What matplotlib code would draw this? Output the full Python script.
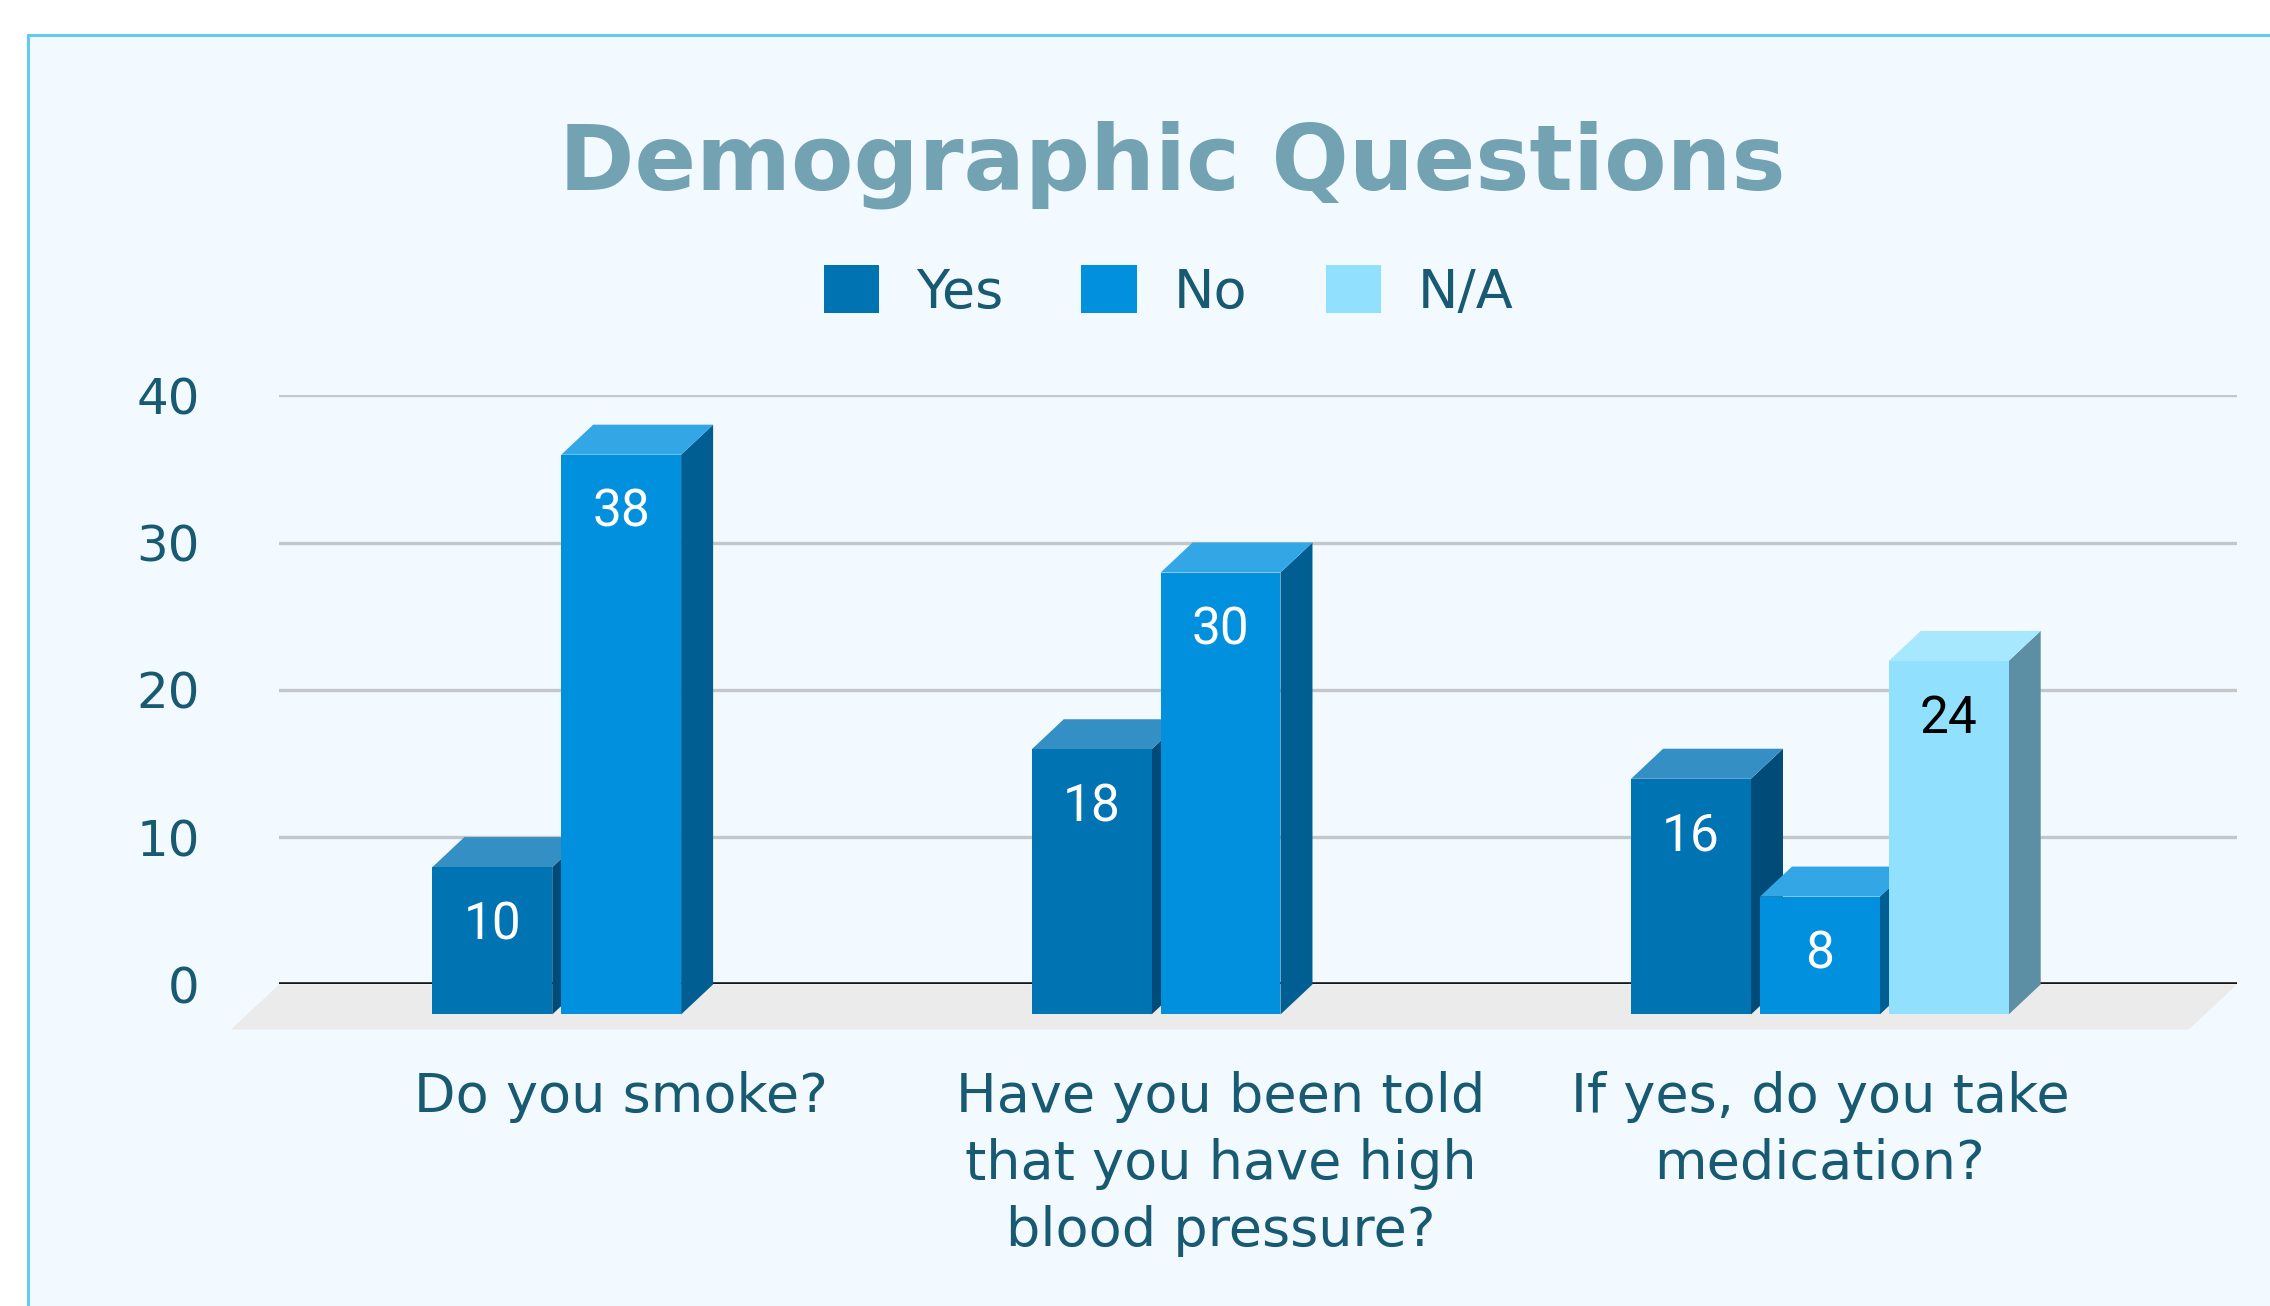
import matplotlib
matplotlib.use("Agg")
import matplotlib.pyplot as plt
from matplotlib.patches import Polygon, Rectangle, Patch

# ---- data ----
categories = [
    "Do you smoke?",
    "Have you been told\nthat you have high\nblood pressure?",
    "If yes, do you take\nmedication?",
]
series_names = ["Yes", "No", "N/A"]
yes_counts = [10, 18, 16]
no_counts = [38, 30, 8]
na_counts = [0, 0, 24]
y_ticks = [0, 10, 20, 30, 40]

# ---- styling ----
W, H, DPI = 2270, 1306, 100
TEXT = "#175a71"
TITLE = "#73a3b3"
FACE = {"Yes": "#0073b3", "No": "#0090dd", "N/A": "#91e0fe"}
TOP = {"Yes": "#348fc4", "No": "#33a6e6", "N/A": "#a8e8fe"}
SIDE = {"Yes": "#004b77", "No": "#005e92", "N/A": "#5d8fa4"}
LABEL_COLOR = {"Yes": "white", "No": "white", "N/A": "black"}

BAR_W = 0.20        # bar width in category units
SLOT = 0.215        # distance between neighbouring bars in a group
DX, DY = 0.0534, 2.04   # 3-D depth of the bars (category units, value units)
FLOOR = 1.5         # floor depth relative to bar depth

fig = plt.figure(figsize=(W / DPI, H / DPI), dpi=DPI, facecolor="white")

# chart panel with its thin border
panel = Rectangle((28 / W, -0.05), 1.2, (H - 35) / H + 0.05,
                  transform=fig.transFigure, facecolor="#f3faff",
                  edgecolor="#62ccf0", lw=2.2, zorder=-5)
fig.patches.append(panel)

# axes = back wall of the 3-D plot
ax = fig.add_axes([279 / W, 321.6 / H, (2237 - 279) / W, (910.8 - 321.6) / H])
ax.set_zorder(1)
ax.set_facecolor("none")
xmin, xmax = -0.6243, 2.6425
ax.set_xlim(xmin, xmax)
ax.set_ylim(0, 40)
for s in ax.spines.values():
    s.set_visible(False)

ax.set_yticks(y_ticks)
ax.yaxis.grid(True, color="#c3c7ca", lw=2.4, zorder=0)
ax.set_axisbelow(True)
ax.tick_params(axis="y", length=0, pad=57, labelsize=36, labelcolor=TEXT)

ax.set_xticks([i - DX for i in range(len(categories))])
ax.set_xticklabels(categories, fontsize=39, color=TEXT, linespacing=1.37,
                   multialignment="center")
ax.tick_params(axis="x", length=0, pad=62)

# floor
ax.add_patch(Polygon([(xmin, 0), (xmax, 0),
                      (xmax - FLOOR * DX, -FLOOR * DY),
                      (xmin - FLOOR * DX, -FLOOR * DY)],
                     closed=True, fc="#ebebeb", ec="none", zorder=1,
                     clip_on=False))
ax.axhline(0, color="#161616", lw=2.6, zorder=2)

series = {"Yes": yes_counts, "No": no_counts, "N/A": na_counts}
z = 3
for i in range(len(categories)):
    for k, name in enumerate(series_names):
        v = series[name][i]
        if v == 0:
            continue
        xc = i + (k - 1) * SLOT
        x0, x1 = xc - BAR_W / 2, xc + BAR_W / 2
        # side face
        ax.add_patch(Polygon([(x1 - DX, -DY), (x1, 0), (x1, v), (x1 - DX, v - DY)],
                             closed=True, fc=SIDE[name], ec="none",
                             zorder=z, clip_on=False))
        # top face
        ax.add_patch(Polygon([(x0 - DX, v - DY), (x1 - DX, v - DY), (x1, v), (x0, v)],
                             closed=True, fc=TOP[name], ec="none",
                             zorder=z, clip_on=False))
        # front face
        ax.bar(xc - DX, v, width=BAR_W, bottom=-DY, color=FACE[name],
               zorder=z + 0.5, clip_on=False)
        ax.text(xc - DX, v - DY - 3.95, f"{v}", ha="center", va="center",
                fontsize=37, family="Roboto", color=LABEL_COLOR[name],
                zorder=z + 0.8)
        z += 1

# title
fig.text(1172.6 / W, 1 - 189.6 / H, "Demographic Questions", ha="center",
         va="baseline", fontsize=65.5, fontweight="bold", color=TITLE)

# legend
handles = [Patch(facecolor=FACE[n], edgecolor="none", label=n) for n in series_names]
fig.legend(handles=handles, loc="center", bbox_to_anchor=(1168.5 / W, 1 - 292 / H),
           ncol=3, frameon=False, fontsize=39, handlelength=1.02,
           handleheight=0.97, handletextpad=0.68, columnspacing=1.45,
           labelcolor=TEXT)

fig.savefig("out.png", dpi=DPI, facecolor="white")
